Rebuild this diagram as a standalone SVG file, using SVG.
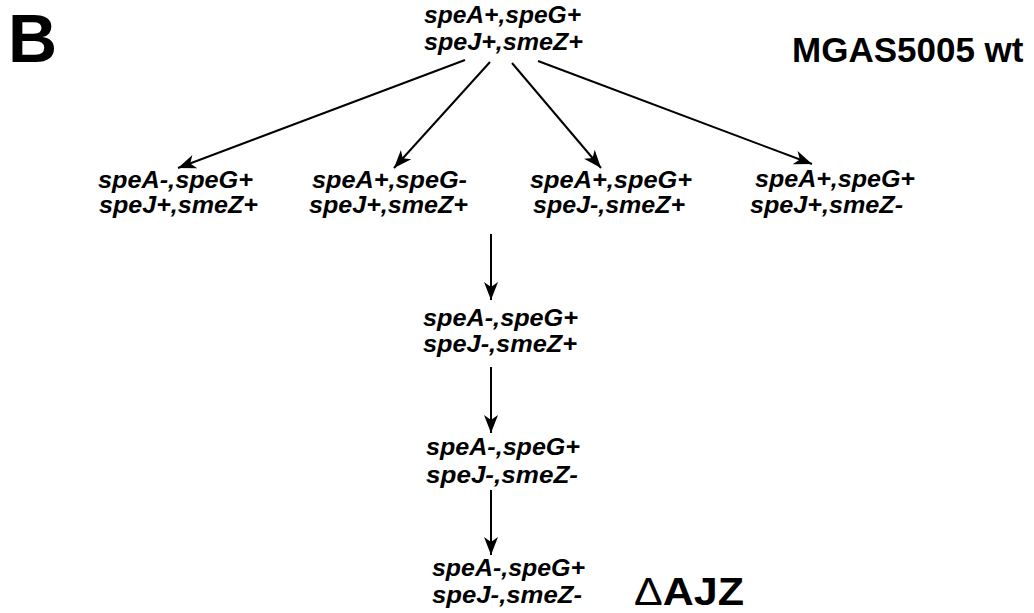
<svg xmlns="http://www.w3.org/2000/svg" width="1034" height="613" viewBox="0 0 1034 613">
<style>
.lbl{font-family:"Liberation Sans",Arial,sans-serif;font-weight:bold;font-style:italic;font-size:24px;fill:#000}
.ttl{font-family:"Liberation Sans",Arial,sans-serif;font-weight:bold;fill:#000}
.edge{stroke:#000;stroke-width:2;fill:none;marker-end:url(#ah)}
</style>
<defs>
<marker id="ah" markerUnits="userSpaceOnUse" viewBox="-20 -9 22 18" refX="0" refY="0" markerWidth="22" markerHeight="18" orient="auto">
<path d="M0,0 L-18,-7 L-13,0 L-18,7 Z" fill="#000"/>
</marker>
</defs>
<rect width="1034" height="613" fill="#fff"/>
<g id="panel-label"><text class="ttl" x="8" y="62" font-size="68">B</text></g>
<g id="title"><text class="ttl" x="792" y="62" font-size="35">MGAS5005 wt</text></g>
<g id="connectors">
<line class="edge" x1="465" y1="60" x2="178" y2="168"/>
<line class="edge" x1="490" y1="62" x2="394" y2="168"/>
<line class="edge" x1="512" y1="63" x2="601" y2="168"/>
<line class="edge" x1="538" y1="61" x2="812" y2="164"/>
<line class="edge" x1="491" y1="234" x2="491" y2="300"/>
<line class="edge" x1="491" y1="367" x2="491" y2="433"/>
<line class="edge" x1="491" y1="490" x2="491" y2="555"/>
</g>
<g id="wt">
<text class="lbl" x="424" y="23" textLength="157" lengthAdjust="spacingAndGlyphs">speA+,speG+</text>
<text class="lbl" x="424" y="50" textLength="159" lengthAdjust="spacingAndGlyphs">speJ+,smeZ+</text>
</g>
<g id="n1">
<text class="lbl" x="98" y="188" textLength="155" lengthAdjust="spacingAndGlyphs">speA-,speG+</text>
<text class="lbl" x="99" y="213" textLength="159" lengthAdjust="spacingAndGlyphs">speJ+,smeZ+</text>
</g>
<g id="n2">
<text class="lbl" x="312" y="188" textLength="155" lengthAdjust="spacingAndGlyphs">speA+,speG-</text>
<text class="lbl" x="309" y="213" textLength="159" lengthAdjust="spacingAndGlyphs">speJ+,smeZ+</text>
</g>
<g id="n3">
<text class="lbl" x="530" y="188" textLength="162" lengthAdjust="spacingAndGlyphs">speA+,speG+</text>
<text class="lbl" x="533" y="213" textLength="152" lengthAdjust="spacingAndGlyphs">speJ-,smeZ+</text>
</g>
<g id="n4">
<text class="lbl" x="755" y="187" textLength="160" lengthAdjust="spacingAndGlyphs">speA+,speG+</text>
<text class="lbl" x="750" y="213" textLength="153" lengthAdjust="spacingAndGlyphs">speJ+,smeZ-</text>
</g>
<g id="n5">
<text class="lbl" x="423" y="326" textLength="155" lengthAdjust="spacingAndGlyphs">speA-,speG+</text>
<text class="lbl" x="423" y="352" textLength="154" lengthAdjust="spacingAndGlyphs">speJ-,smeZ+</text>
</g>
<g id="n6">
<text class="lbl" x="426" y="455" textLength="154" lengthAdjust="spacingAndGlyphs">speA-,speG+</text>
<text class="lbl" x="426" y="483" textLength="152" lengthAdjust="spacingAndGlyphs">speJ-,smeZ-</text>
</g>
<g id="n7">
<text class="lbl" x="432" y="576" textLength="153" lengthAdjust="spacingAndGlyphs">speA-,speG+</text>
<text class="lbl" x="432" y="603" textLength="150" lengthAdjust="spacingAndGlyphs">speJ-,smeZ-</text>
</g>
<g id="daj"><text class="ttl" x="634" y="605" font-size="38" textLength="110" lengthAdjust="spacingAndGlyphs"><tspan font-weight="normal">Δ</tspan>AJZ</text></g>
</svg>
